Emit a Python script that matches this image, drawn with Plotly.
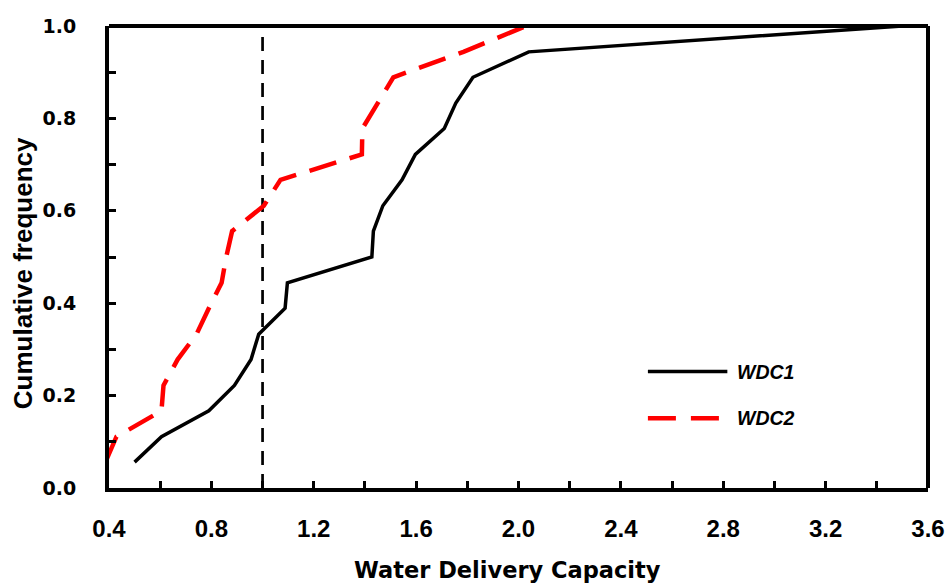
import plotly.graph_objects as go

# ---- data ----
wdc1_x = [0.50, 0.605, 0.79, 0.89, 0.955, 0.985, 1.088, 1.097, 1.427, 1.433,
          1.47, 1.545, 1.597, 1.71, 1.755, 1.822, 2.04, 3.50]
wdc1_y = [0.056, 0.111, 0.167, 0.222, 0.278, 0.333, 0.389, 0.444, 0.500, 0.556,
          0.611, 0.667, 0.722, 0.778, 0.833, 0.889, 0.944, 1.000]

wdc2_x = [0.386, 0.429, 0.605, 0.613, 0.668, 0.742, 0.79, 0.84, 0.858, 0.881,
          1.005, 1.07, 1.388, 1.39, 1.45, 1.511, 1.785, 2.03]
wdc2_y = [0.056, 0.111, 0.167, 0.222, 0.278, 0.333, 0.389, 0.444, 0.500, 0.556,
          0.611, 0.667, 0.722, 0.778, 0.833, 0.889, 0.944, 1.000]

ref_x = [1.0, 1.0]
ref_y = [0.0, 0.98]

x_ticks = [0.4, 0.8, 1.2, 1.6, 2.0, 2.4, 2.8, 3.2, 3.6]
x_labels = ["0.4", "0.8", "1.2", "1.6", "2.0", "2.4", "2.8", "3.2", "3.6"]
x_minor = [0.6, 1.0, 1.4, 1.8, 2.2, 2.6, 3.0, 3.4]
y_ticks = [0.0, 0.2, 0.4, 0.6, 0.8, 1.0]
y_labels = ["0.0", "0.2", "0.4", "0.6", "0.8", "1.0"]
y_minor = [0.1, 0.3, 0.5, 0.7, 0.9]

x_title = "Water Delivery Capacity"
y_title = "Cumulative frequency"

ARIAL = "Liberation Sans, Arial, sans-serif"
WIDE = "DejaVu Sans, Verdana, sans-serif"

fig = go.Figure()
fig.add_trace(go.Scatter(x=ref_x, y=ref_y, mode="lines", showlegend=False,
                         line=dict(color="black", width=2.7, dash="14px,9px")))
fig.add_trace(go.Scatter(x=wdc1_x, y=wdc1_y, mode="lines", name="WDC1", showlegend=False,
                         line=dict(color="black", width=3.5)))
fig.add_trace(go.Scatter(x=wdc2_x, y=wdc2_y, mode="lines", name="WDC2", showlegend=False,
                         line=dict(color="#ff0000", width=4.5, dash="28px,14px")))

# top and right edges of the frame (left/bottom come from the axis lines)
fig.add_shape(type="line", xref="paper", yref="paper", x0=0, x1=1, y0=1, y1=1,
              line=dict(color="black", width=4), layer="above")
fig.add_shape(type="line", xref="paper", yref="paper", x0=1, x1=1, y0=0, y1=1,
              line=dict(color="black", width=4), layer="above")

# manual legend (sample lines + labels)
leg = [("WDC1", "black", 3.5, "solid", 0.252), ("WDC2", "#ff0000", 4.5, "28px,15px", 0.151)]
for name, col, w, d, yy in leg:
    fig.add_shape(type="line", xref="paper", yref="paper", x0=0.658, x1=0.755, y0=yy, y1=yy,
                  line=dict(color=col, width=w, dash=d))
    fig.add_annotation(text=name, xref="paper", yref="paper", x=0.764, y=yy, xanchor="left",
                       yanchor="middle", showarrow=False,
                       font=dict(family=ARIAL, size=19.5, color="black", weight="bold",
                                 style="italic"))

# axis titles placed as annotations for exact positioning
fig.add_annotation(text=x_title, xref="paper", yref="paper", x=0.487, y=-0.177,
                   xanchor="center", yanchor="middle", showarrow=False,
                   font=dict(family=WIDE, size=22.5, color="black", weight="bold"))
fig.add_annotation(text=y_title, xref="paper", yref="paper", x=0, y=0.465,
                   xshift=-86, xanchor="center", yanchor="middle", textangle=-90,
                   showarrow=False,
                   font=dict(family=ARIAL, size=26, color="black", weight="bold"))

axis_common = dict(showline=True, linecolor="black", linewidth=4, mirror=False,
                   showgrid=False, zeroline=False, ticks="inside", ticklen=7,
                   tickwidth=3, tickcolor="black", automargin=False,
                   ticklabeloverflow="allow")

fig.update_xaxes(range=[0.4, 3.6], tickvals=x_ticks, ticktext=x_labels,
                 minor=dict(tickvals=x_minor, ticks="inside",
                            ticklen=7, tickwidth=3, tickcolor="black"),
                 tickfont=dict(family=ARIAL, size=24, color="black", weight="bold"),
                 ticklabelstandoff=16, **axis_common)
fig.update_yaxes(range=[0, 1.0], tickvals=y_ticks, ticktext=y_labels,
                 minor=dict(tickvals=y_minor, ticks="inside",
                            ticklen=7, tickwidth=3, tickcolor="black"),
                 tickfont=dict(family=WIDE, size=19, color="black", weight="bold"),
                 ticklabelstandoff=25, **axis_common)

fig.update_layout(width=948, height=585, margin=dict(l=109, r=20, t=26, b=97),
                  plot_bgcolor="white", paper_bgcolor="white", showlegend=False)

# remove the default 8px page margin so the 948x585 figure fills the window exactly
fig.write_html("out.html", config={"displayModeBar": False},
               post_script="document.body.style.margin='0';document.body.style.overflow='hidden';")
